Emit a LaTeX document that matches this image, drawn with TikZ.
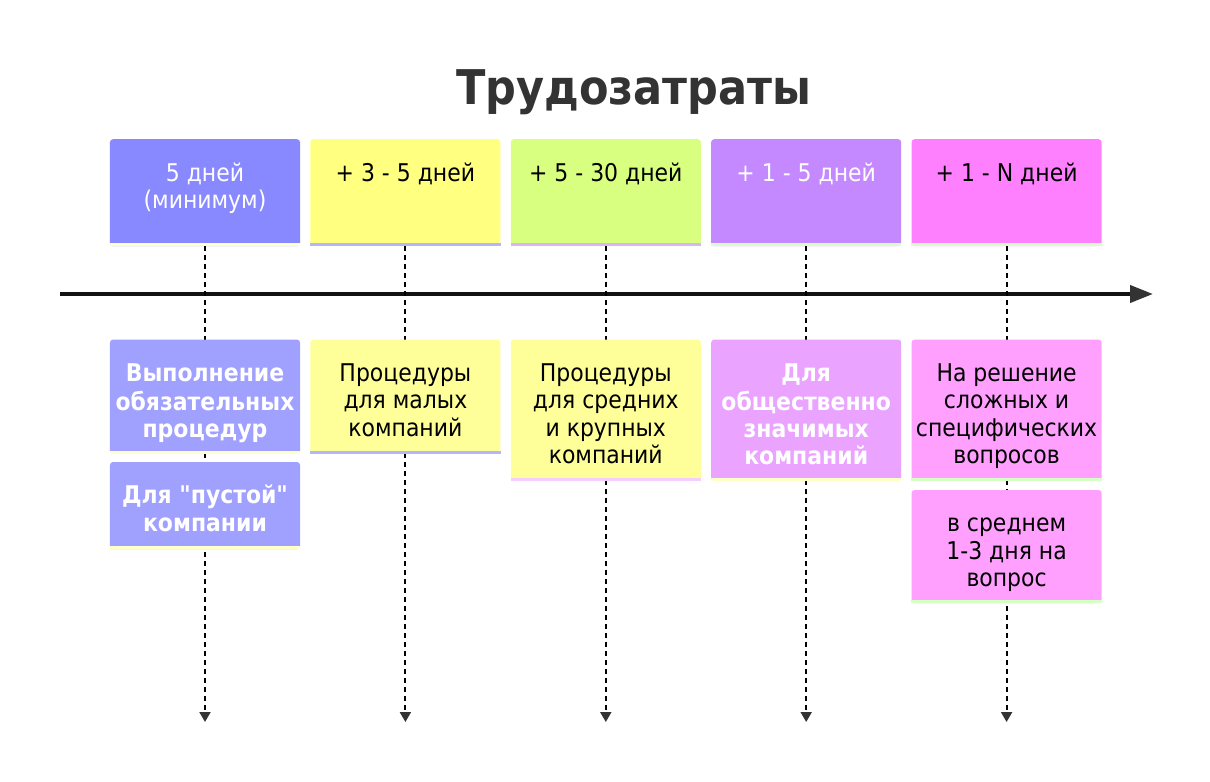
\documentclass[tikz,border=0pt]{standalone}
\usepackage{fontspec}
\setmainfont{DejaVu Sans Condensed}[Ligatures=TeXOff]
\usepackage{tikz}
\usetikzlibrary{positioning, arrows.meta}
\definecolor{headBlue}{RGB}{136,136,255}
\definecolor{headYellow}{RGB}{255,255,128}
\definecolor{headLime}{RGB}{217,255,128}
\definecolor{headViolet}{RGB}{196,136,255}
\definecolor{headPink}{RGB}{255,128,255}
\definecolor{bodyBlue}{RGB}{160,160,255}
\definecolor{bodyYellow}{RGB}{255,255,153}
\definecolor{bodyViolet}{RGB}{234,163,255}
\definecolor{bodyPink}{RGB}{255,160,255}
\definecolor{stripYellow}{RGB}{255,255,200}
\definecolor{stripBlue}{RGB}{180,180,255}
\definecolor{stripViolet}{RGB}{216,180,255}
\definecolor{stripPink}{RGB}{245,205,255}
\definecolor{stripGreen}{RGB}{214,255,200}
\definecolor{darkGrey}{RGB}{51,51,51}

\tikzset{
  card/.style={anchor=north, minimum width=190bp, inner sep=0pt, rounded corners=3bp},
  caption/.style={anchor=north, inner sep=0pt, align=center, font=\fontsize{24.5}{27.5}\selectfont},
  boldcaption/.style={caption, white, font=\fontsize{24.5}{27.5}\selectfont\bfseries},
  guide/.style={line width=2bp, dash pattern=on 5bp off 4bp,
    -{Triangle[width=11bp, length=10bp, color=darkGrey]}}
}

\begin{document}
\begin{tikzpicture}[x=1bp, y=-1bp]
\fill[white] (0,0) rectangle (1210,782);
\useasboundingbox (0,0) rectangle (1210,782);

% Title
\node[font=\fontsize{48}{58}\selectfont\bfseries, darkGrey] (title) at (634,92) {Трудозатраты};

% Headers
\node[card, fill=headBlue, minimum height=107bp] (h1) at (205,139) {};
\node[card, fill=headYellow, minimum height=107bp, right=10bp of h1] (h2) {};
\node[card, fill=headLime, minimum height=107bp, right=10bp of h2] (h3) {};
\node[card, fill=headViolet, minimum height=107bp, right=10bp of h3] (h4) {};
\node[card, fill=headPink, minimum height=107bp, right=10bp of h4] (h5) {};
\foreach \n/\strip in {1/stripYellow, 2/stripBlue, 3/stripViolet, 4/stripGreen, 5/stripGreen} {
  \fill[\strip] ([yshift=3bp]h\n.south west) rectangle (h\n.south east);
}
\node[caption, white] (h1t) at ([yshift=-22.75bp]h1.north) {\strut 5 дней\\(минимум)};
\node[caption] (h2t) at ([yshift=-22.75bp]h2.north) {\strut + 3 - 5 дней};
\node[caption] (h3t) at ([yshift=-22.75bp]h3.north) {\strut + 5 - 30 дней};
\node[caption, white] (h4t) at ([yshift=-22.75bp]h4.north) {\strut + 1 - 5 дней};
\node[caption] (h5t) at ([yshift=-22.75bp]h5.north) {\strut + 1 - N дней};

% Time axis
\coordinate (axisL) at (60,294);
\coordinate (axisR) at (1153,294);
\draw[line width=4bp, color=black!93, -{Triangle[width=17bp, length=23bp, color=darkGrey]}] (axisL) -- (axisR);

% Guides
\coordinate (bottom) at (0,722);
\foreach \n in {1,...,5} {
  \draw[guide] (h\n.south) -- (h\n.south |- bottom);
}

% Details
\node[card, fill=bodyBlue, minimum height=114bp, below=93bp of h1] (d1a) {};
\node[card, fill=bodyBlue, minimum height=87bp, below=8bp of d1a] (d1b) {};
\node[card, fill=bodyYellow, minimum height=114bp, below=93bp of h2] (d2) {};
\node[card, fill=bodyYellow, minimum height=141bp, below=93bp of h3] (d3) {};
\node[card, fill=bodyViolet, minimum height=141bp, below=93bp of h4] (d4) {};
\node[card, fill=bodyPink, minimum height=141bp, below=93bp of h5] (d5a) {};
\node[card, fill=bodyPink, minimum height=113bp, below=9bp of d5a] (d5b) {};
\foreach \n/\strip in {1a/stripYellow, 1b/stripYellow, 2/stripBlue, 3/stripPink, 4/stripYellow, 5a/stripGreen, 5b/stripGreen} {
  \fill[\strip] ([yshift=3bp]d\n.south west) rectangle (d\n.south east);
}
\node[boldcaption] (d1at) at ([yshift=-22.75bp]d1a.north) {\strut Выполнение\\обязательных\\процедур};
\node[boldcaption] (d1bt) at ([yshift=-22.75bp]d1b.north) {\strut Для "пустой"\\компании};
\node[caption] (d2t) at ([yshift=-22.75bp]d2.north) {\strut Процедуры\\для малых\\компаний};
\node[caption] (d3t) at ([yshift=-22.75bp]d3.north) {\strut Процедуры\\для средних\\и крупных\\компаний};
\node[boldcaption] (d4t) at ([yshift=-22.75bp]d4.north) {\strut Для\\общественно\\значимых\\компаний};
\node[caption] (d5at) at ([yshift=-22.75bp]d5a.north) {\strut На решение\\сложных и\\специфических\\вопросов};
\node[caption] (d5bt) at ([yshift=-22.75bp]d5b.north) {\strut в среднем\\1-3 дня на\\вопрос};
\end{tikzpicture}
\end{document}
